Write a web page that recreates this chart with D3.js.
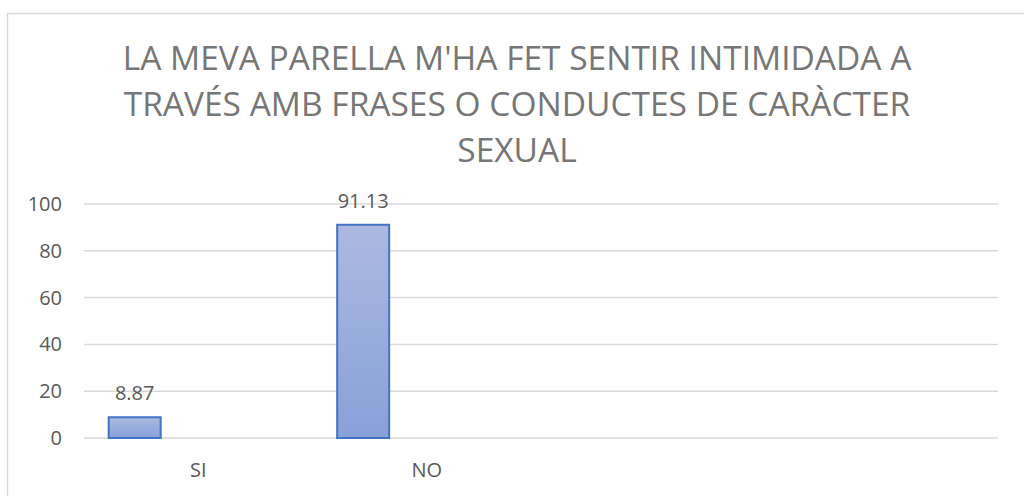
<!DOCTYPE html>
<html>
<head>
<meta charset="utf-8">
<script src="https://cdn.jsdelivr.net/npm/d3@7"></script>
<style>
  html, body { margin: 0; padding: 0; background: #fff; }
  svg { display: block; font-family: "Open Sans", "Noto Sans", sans-serif; }
</style>
</head>
<body>
<svg id="chart" width="1024" height="496"></svg>
<script>
// --- data ---
var categories = ['SI', 'NO', '', ''];
var values = [8.87, 91.13, null, null];
var yTicks = [0, 20, 40, 60, 80, 100];
var titleLines = [
    "LA MEVA PARELLA M'HA FET SENTIR INTIMIDADA A",
    'TRAVÉS AMB FRASES O CONDUCTES DE CARÀCTER',
    'SEXUAL'
];

var svg = d3.select('#chart');

// chart frame
svg.append('rect')
    .attr('x', 7.5).attr('y', 13.5)
    .attr('width', 1030).attr('height', 500)
    .attr('fill', '#fff')
    .attr('stroke', '#d9d9d9')
    .attr('stroke-width', 1.5);

// title
svg.append('g').selectAll('text')
    .data(titleLines)
    .join('text')
    .attr('x', 517)
    .attr('y', function (d, i) { return 70 + i * 46; })
    .attr('text-anchor', 'middle')
    .attr('fill', '#767676')
    .style('font-size', '33.5px')
    .text(function (d) { return d; });

var x = d3.scaleBand()
    .domain(d3.range(categories.length))
    .range([84, 998]);

var y = d3.scaleLinear()
    .domain([0, 100])
    .range([438, 204]);

// gridlines
svg.append('g').selectAll('line')
    .data(yTicks)
    .join('line')
    .attr('x1', 84).attr('x2', 998)
    .attr('y1', function (d) { return y(d); })
    .attr('y2', function (d) { return y(d); })
    .attr('stroke', '#d9d9d9')
    .attr('stroke-width', 1.5);

// y axis labels
var yAxis = svg.append('g')
    .attr('transform', 'translate(62,0)')
    .call(d3.axisLeft(y).tickValues(yTicks).tickSize(0).tickPadding(0));
yAxis.select('.domain').remove();
yAxis.selectAll('text')
    .attr('fill', '#595959')
    .style('font-family', '"Open Sans", sans-serif')
    .style('font-size', '20px');

// x axis labels
var xAxis = svg.append('g')
    .attr('transform', 'translate(0,' + y(0) + ')')
    .call(d3.axisBottom(x).tickSize(0).tickPadding(0)
        .tickFormat(function (i) { return categories[i]; }));
xAxis.select('.domain').remove();
xAxis.selectAll('text')
    .attr('y', 38.5)
    .attr('dy', 0)
    .attr('fill', '#595959')
    .style('font-family', '"Open Sans", sans-serif')
    .style('font-size', '20px');

// bar gradient
var grad = svg.append('defs').append('linearGradient')
    .attr('id', 'barFill')
    .attr('x1', 0).attr('y1', 0).attr('x2', 0).attr('y2', 1);
grad.append('stop').attr('offset', '0%').attr('stop-color', '#abb9e1');
grad.append('stop').attr('offset', '100%').attr('stop-color', '#88a1d8');

var barOffset = 0.108, barWidth = 0.2275;
var bars = categories.map(function (c, i) { return { i: i, v: values[i] }; })
    .filter(function (d) { return d.v != null; });

svg.append('g').selectAll('rect')
    .data(bars)
    .join('rect')
    .attr('x', function (d) { return x(d.i) + x.bandwidth() * barOffset; })
    .attr('y', function (d) { return y(d.v); })
    .attr('width', x.bandwidth() * barWidth)
    .attr('height', function (d) { return y(0) - y(d.v); })
    .attr('fill', 'url(#barFill)')
    .attr('stroke', '#4472c4')
    .attr('stroke-width', 2);

// data labels
svg.append('g').selectAll('text')
    .data(bars)
    .join('text')
    .attr('x', function (d) { return x(d.i) + x.bandwidth() * (barOffset + barWidth / 2); })
    .attr('y', function (d) { return y(d.v) - 17; })
    .attr('text-anchor', 'middle')
    .attr('fill', '#595959')
    .style('font-size', '20px')
    .text(function (d) { return d3.format('.2f')(d.v); });
</script>
</body>
</html>
